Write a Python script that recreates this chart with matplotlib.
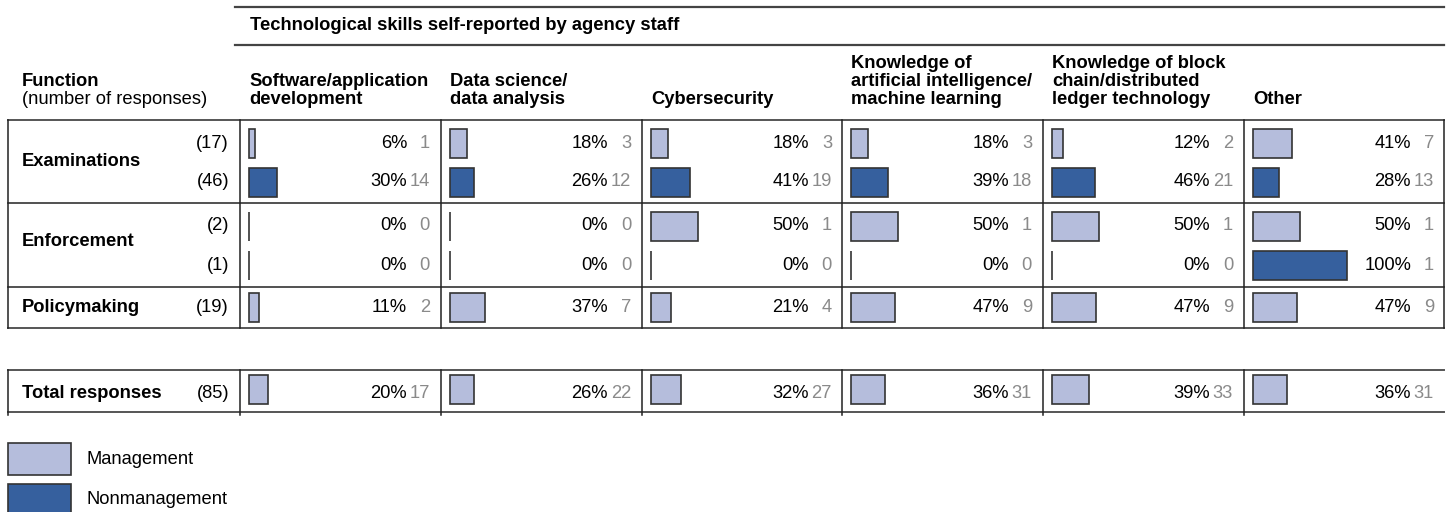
import matplotlib
matplotlib.use("Agg")
import matplotlib.pyplot as plt
from matplotlib.patches import Rectangle

plt.rcParams['font.family'] = ['Liberation Sans', 'DejaVu Sans']

# data
skills = ["Software/application\ndevelopment", "Data science/\ndata analysis", "Cybersecurity",
          "Knowledge of\nartificial intelligence/\nmachine learning",
          "Knowledge of block\nchain/distributed\nledger technology", "Other"]
functions = ["Examinations", "Enforcement", "Policymaking"]
row_n = [17, 46, 2, 1, 19]
row_group = ["mgmt", "non", "mgmt", "non", "mgmt"]

exam_mgmt_pct = [6, 18, 18, 18, 12, 41]
exam_mgmt_cnt = [1, 3, 3, 3, 2, 7]
exam_non_pct = [30, 26, 41, 39, 46, 28]
exam_non_cnt = [14, 12, 19, 18, 21, 13]
enf_mgmt_pct = [0, 0, 50, 50, 50, 50]
enf_mgmt_cnt = [0, 0, 1, 1, 1, 1]
enf_non_pct = [0, 0, 0, 0, 0, 100]
enf_non_cnt = [0, 0, 0, 0, 0, 1]
policy_pct = [11, 37, 21, 47, 47, 47]
policy_cnt = [2, 7, 4, 9, 9, 9]
total_n = 85
total_pct = [20, 26, 32, 36, 39, 36]
total_cnt = [17, 22, 27, 31, 33, 31]

pct_rows = [exam_mgmt_pct, exam_non_pct, enf_mgmt_pct, enf_non_pct, policy_pct]
cnt_rows = [exam_mgmt_cnt, exam_non_cnt, enf_mgmt_cnt, enf_non_cnt, policy_cnt]

c_mgmt = '#b5bddc'
c_non = '#36609e'
edge = '#333333'
gray = '#8a8a8a'
fs = 13.2

fig = plt.figure(figsize=(14.52, 5.12), dpi=100, facecolor='white')
ax = fig.add_axes([0, 0, 1, 1])
ax.set_xlim(0, 1452)
ax.set_ylim(512, 0)
ax.axis('off')

col_x = [240, 441, 642, 842, 1043, 1244]
right = 1444
scale = 0.94  # px per percent

# header
ax.plot([235, right], [7, 7], color='#444444', lw=1.6)
ax.plot([235, right], [45, 45], color='#444444', lw=1.6)
ax.text(250, 25, "Technological skills self-reported by agency staff", fontsize=fs,
        fontweight='bold', va='center', ha='left')
ax.text(22, 81, "Function", fontsize=fs, fontweight='bold', va='center')
ax.text(22, 99, "(number of responses)", fontsize=fs, va='center')
for cx, lab in zip(col_x, skills):
    lines = lab.split("\n")
    for k, ln in enumerate(reversed(lines)):
        ax.text(cx + 9, 99 - 18 * k, ln, fontsize=fs, fontweight='bold', va='center')

# table frame
top, bot = 120, 328
ax.plot([8, right], [top, top], color='#555555', lw=1.4)
ax.plot([8, right], [bot, bot], color='#555555', lw=1.4)
for yy in [203, 287]:
    ax.plot([8, right], [yy, yy], color='#333333', lw=1.2)
for xx in [8] + col_x + [right]:
    ax.plot([xx, xx], [top, bot], color='#222222', lw=1.1)

row_y = [143, 182, 226, 265, 307]
func_y = [162, 242, 307]
for f, fy in zip(functions, func_y):
    ax.text(22, fy, f, fontsize=fs, fontweight='bold', va='center')
for n, ry in zip(row_n, row_y):
    ax.text(229, ry, "(%d)" % n, fontsize=fs, va='center', ha='right')


def draw_cells(y, pcts, cnts, color, by):
    for cx, p, c in zip(col_x, pcts, cnts):
        ax.barh(by, p * scale, left=cx + 9, height=29, color=color, edgecolor=edge, linewidth=1.2)
        ax.text(cx + 167, y, "%d%%" % p, fontsize=fs, va='center', ha='right')
        ax.text(cx + 190, y, "%d" % c, fontsize=fs, va='center', ha='right', color=gray)


for ry, g, pcts, cnts in zip(row_y, row_group, pct_rows, cnt_rows):
    draw_cells(ry, pcts, cnts, c_mgmt if g == "mgmt" else c_non, ry)

# total row
t_top, t_bot = 370, 412
ax.plot([8, right], [t_top, t_top], color='#555555', lw=1.4)
ax.plot([8, right], [t_bot, t_bot], color='#555555', lw=1.4)
for xx in [8] + col_x:
    ax.plot([xx, xx], [t_top, t_bot + 3], color='#222222', lw=1.1)
ax.text(22, 393, "Total responses", fontsize=fs, fontweight='bold', va='center')
ax.text(229, 393, "(%d)" % total_n, fontsize=fs, va='center', ha='right')
draw_cells(393, total_pct, total_cnt, c_mgmt, 389.5)

# legend
ax.add_patch(Rectangle((8, 443), 63, 32, facecolor=c_mgmt, edgecolor=edge, lw=1.2))
ax.add_patch(Rectangle((8, 484), 63, 32, facecolor=c_non, edgecolor=edge, lw=1.2))
ax.text(87, 460, "Management", fontsize=fs, va='center')
ax.text(87, 500, "Nonmanagement", fontsize=fs, va='center')

fig.savefig("out.png", dpi=100, facecolor='white')
